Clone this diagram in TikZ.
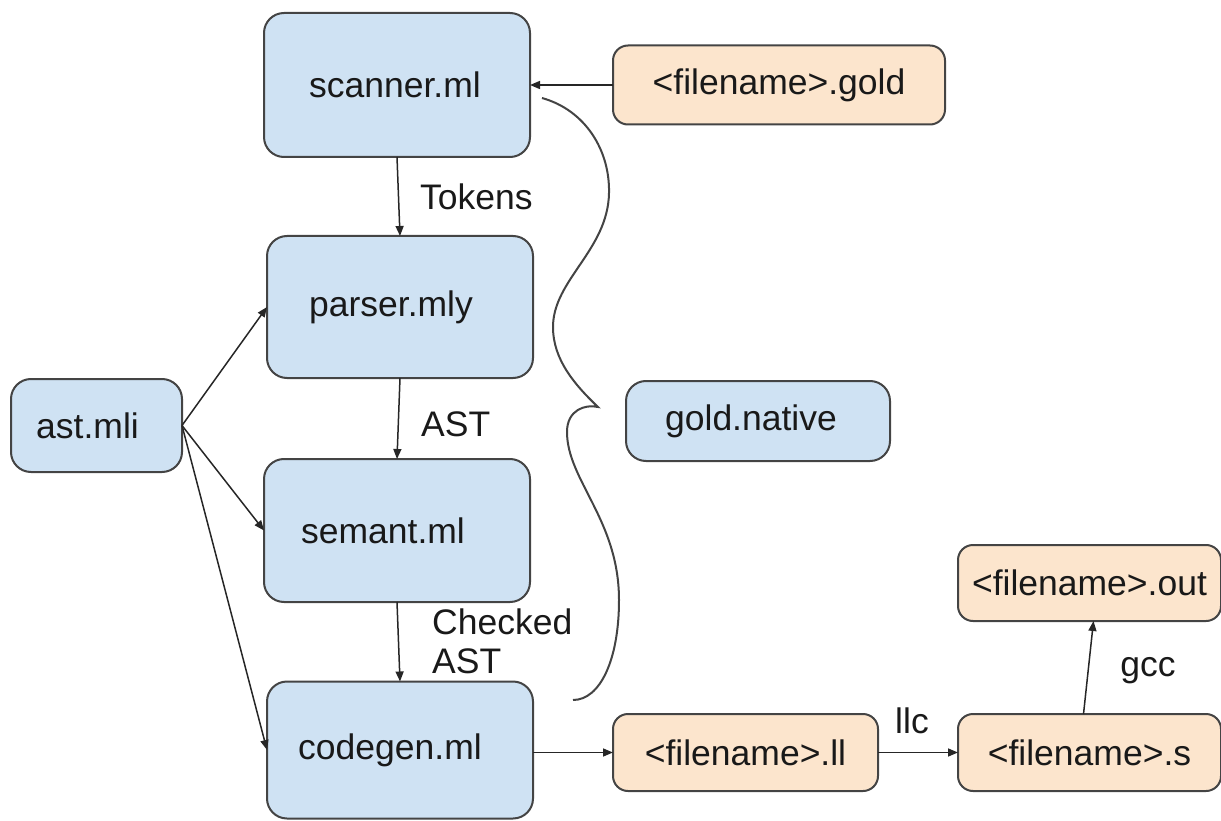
\documentclass[tikz,border=0pt]{standalone}
\usepackage{fontspec}
\setmainfont{Liberation Sans}
\usetikzlibrary{arrows.meta,calc}
\definecolor{boxblue}{HTML}{CFE2F3}
\definecolor{boxorange}{HTML}{FCE5CD}
\definecolor{edge}{HTML}{444444}
\tikzset{
  box/.style={draw=edge, line width=2pt, rounded corners=20pt, inner sep=0pt, outer sep=0pt,
    font=\fontsize{35.5}{40}\selectfont, text=black!90},
  bluebox/.style={box, fill=boxblue},
  orangebox/.style={box, fill=boxorange, rounded corners=15pt},
  arr/.style={draw=black!85, line width=1.5pt, -{Triangle[length=10pt,width=8pt]}},
  lbl/.style={font=\fontsize{35.5}{39}\selectfont, text=black!90, inner sep=0pt},
  bracecurve/.style={draw=edge, line width=2pt}
}
\begin{document}
\begin{tikzpicture}[x=1pt,y=-1pt]
\useasboundingbox (0,0) rectangle (1221,821);
\node[bluebox, minimum width=266pt, minimum height=144pt] (scanner) at (397,85) {scanner.ml\kern4pt};
\node[orangebox, minimum width=332pt, minimum height=79pt] (gold) at (779,85) {<filename>.gold};
\node[bluebox, minimum width=266pt, minimum height=142pt] (parser) at (400,307) {parser.mly\kern18pt};
\node[bluebox, minimum width=171pt, minimum height=93pt] (ast) at (96.5,425.5) {ast.mli\kern18pt};
\node[bluebox, minimum width=264pt, minimum height=80pt] (native) at (758,421) {gold.native\kern14pt};
\node[bluebox, minimum width=266pt, minimum height=143pt] (semant) at (397,530.5) {semant.ml\kern28pt};
\node[bluebox, minimum width=266pt, minimum height=137pt] (codegen) at (400,750) {codegen.ml\kern20pt};
\node[orangebox, minimum width=265pt, minimum height=77pt] (ll) at (745.5,752.5) {<filename>.ll};
\node[orangebox, minimum width=263pt, minimum height=77pt] (s) at (1089.5,752.5) {<filename>.s};
\node[orangebox, minimum width=263pt, minimum height=76pt] (out) at (1089.5,583) {<filename>.out};

\draw[arr] (gold) -- (scanner);
\draw[arr] (scanner.south) -- (parser.north);
\draw[arr] (parser.south) -- (semant.north);
\draw[arr] (semant.south) -- (codegen.north);
\draw[arr] (ast.east) -- (parser.west);
\draw[arr] (ast.east) -- (semant.west);
\draw[arr] (ast.east) -- (codegen.west);
\draw[arr] (ll.west -| codegen.east) -- (ll.west);
\draw[arr] (ll) -- (s);
\draw[arr] ($(s.north)+(-6,0)$) -- ($(out.south)+(4,0)$);

\node[lbl, anchor=west] (tok) at (420,197) {Tokens};
\node[lbl, anchor=west] (astl) at (421,424) {AST};
\node[lbl, anchor=west, align=left] (chk) at (432,641) {Checked\\AST};
\node[lbl] (llc) at (912,721) {llc};
\node[lbl] (gcc) at (1148,671) {gcc};

\draw[bracecurve] (542,98) .. controls (585,110) and (610,150) .. (609,193)
  .. controls (608,250) and (553,280) .. (553,327)
  .. controls (553,360) and (575,385) .. (598,407)
  .. controls (585,404) and (567,410) .. (567,432)
  .. controls (567,480) and (619,520) .. (619,600)
  .. controls (619,660) and (600,700) .. (573,700);
\end{tikzpicture}
\end{document}
